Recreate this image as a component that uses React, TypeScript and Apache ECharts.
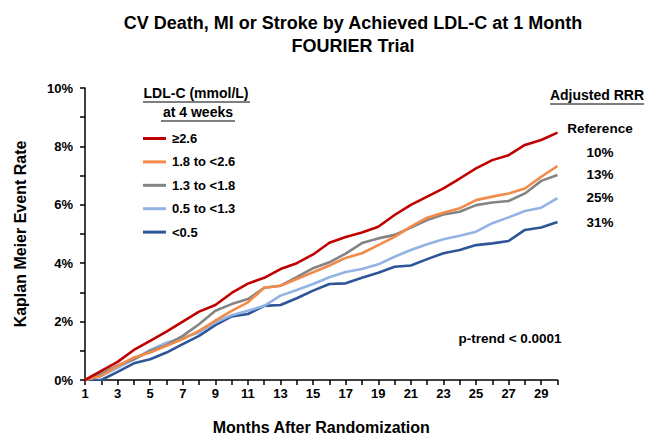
import React, { useEffect, useRef } from "react";
import * as echarts from "echarts";

const months = [1,2,3,4,5,6,7,8,9,10,11,12,13,14,15,16,17,18,19,20,21,22,23,24,25,26,27,28,29,30];
const seriesNames = ["≥2.6", "1.8 to <2.6", "1.3 to <1.8", "0.5 to <1.3", "<0.5"];
const seriesColors = ["#C00000", "#F28A4A", "#848484", "#92B4E4", "#2E5597"];
const red = [0,0.31,0.62,1.03,1.34,1.66,2.0,2.34,2.57,2.98,3.30,3.50,3.80,4.0,4.3,4.7,4.9,5.05,5.25,5.65,6.0,6.28,6.56,6.9,7.25,7.53,7.7,8.05,8.22,8.47];
const orange = [0,0.14,0.48,0.77,0.94,1.17,1.4,1.68,2.03,2.37,2.66,3.16,3.23,3.46,3.69,3.92,4.18,4.34,4.62,4.9,5.25,5.56,5.73,5.88,6.16,6.28,6.39,6.56,6.96,7.33];
const gray = [0,0.22,0.5,0.71,0.99,1.19,1.51,1.91,2.37,2.6,2.77,3.16,3.23,3.52,3.83,4.03,4.33,4.69,4.85,4.97,5.22,5.48,5.67,5.76,5.99,6.08,6.13,6.39,6.82,7.02];
const lightBlue = [0,0.14,0.42,0.71,1.03,1.28,1.45,1.63,1.97,2.22,2.37,2.54,2.89,3.08,3.29,3.52,3.7,3.8,3.96,4.22,4.45,4.65,4.82,4.94,5.08,5.37,5.57,5.79,5.9,6.23];
const darkBlue = [0,0,0.28,0.57,0.71,0.94,1.23,1.51,1.88,2.18,2.26,2.54,2.57,2.8,3.06,3.29,3.31,3.5,3.67,3.88,3.92,4.14,4.34,4.45,4.62,4.68,4.76,5.14,5.22,5.41];
const seriesValues = [red, orange, gray, lightBlue, darkBlue];
const rrrLabels = ["Reference", "10%", "13%", "25%", "31%"];

const FONT = "Liberation Sans, Arial, sans-serif";

export default function App() {
  const ref = useRef<HTMLDivElement>(null);
  useEffect(() => {
    if (!ref.current) return;
    const chart = echarts.init(ref.current, null, { renderer: "svg" });
    const txt = (x: number, y: number, text: string, size: number, align = "left") => ({
      type: "text",
      x,
      y,
      style: { text, font: `bold ${size}px ${FONT}`, fill: "#000", textAlign: align, textVerticalAlign: "middle" },
    });
    const uline = (x1: number, x2: number, y: number) => ({
      type: "line",
      shape: { x1, y1: y, x2, y2: y },
      style: { stroke: "#000", lineWidth: 1.2 },
    });
    const rrrY = [128, 152, 174, 197, 222];
    chart.setOption({
      animation: false,
      backgroundColor: "#fff",
      title: {
        text: "CV Death, MI or Stroke by Achieved LDL-C at 1 Month\nFOURIER Trial",
        left: 348,
        top: 6,
        textAlign: "center",
        textStyle: { fontFamily: FONT, fontWeight: "bold", fontSize: 18, lineHeight: 23, color: "#000" },
      },
      grid: { left: 85, right: 92.5, top: 88, bottom: 57, containLabel: false, outerBoundsMode: "none" },
      legend: {
        orient: "vertical",
        left: 138,
        top: 127,
        itemWidth: 23,
        itemHeight: 3,
        itemGap: 10.4,
        icon: "rect",
        data: seriesNames,
        textStyle: { fontFamily: FONT, fontWeight: "bold", fontSize: 13, color: "#000", padding: [0, 0, 0, 1] },
      },
      xAxis: {
        type: "value",
        min: 1,
        max: 30,
        interval: 1,
        name: "Months After Randomization",
        nameLocation: "middle",
        nameGap: 39,
        nameTextStyle: { fontFamily: FONT, fontWeight: "bold", fontSize: 16, color: "#000" },
        axisLine: { lineStyle: { color: "#000", width: 1.5 } },
        axisTick: { show: true, length: 5, inside: false, lineStyle: { color: "#000", width: 1.5 } },
        axisLabel: {
          fontFamily: FONT,
          fontWeight: "bold",
          fontSize: 13,
          color: "#000",
          margin: 7,
          showMaxLabel: true,
          formatter: (v: number) => (v % 2 === 1 && v <= 29 ? String(v) : ""),
        },
        splitLine: { show: false },
      },
      yAxis: {
        type: "value",
        min: 0,
        max: 10,
        interval: 1,
        name: "Kaplan Meier Event Rate",
        nameLocation: "middle",
        nameGap: 57,
        nameTextStyle: { fontFamily: FONT, fontWeight: "bold", fontSize: 16, color: "#000" },
        axisLine: { show: true, lineStyle: { color: "#000", width: 1.5 } },
        axisTick: { show: true, length: 5, lineStyle: { color: "#000", width: 1.5 } },
        axisLabel: {
          fontFamily: FONT,
          fontWeight: "bold",
          fontSize: 13,
          color: "#000",
          margin: 12,
          formatter: (v: number) => (v % 2 === 0 ? v + "%" : ""),
        },
        splitLine: { show: false },
      },
      series: seriesNames.map((name, i) => ({
        name,
        type: "line",
        data: months.map((m, j) => [m, seriesValues[i][j]]),
        showSymbol: false,
        symbol: "none",
        lineStyle: { color: seriesColors[i], width: 2.6 },
        itemStyle: { color: seriesColors[i] },
        z: 10 - i,
      })),
      graphic: [
        txt(196, 93, "LDL-C (mmol/L)", 14, "center"),
        uline(143, 250, 102),
        txt(198, 112, "at 4 weeks", 14, "center"),
        uline(161, 235, 121),
        txt(597, 95, "Adjusted RRR", 14, "center"),
        uline(550, 644, 104),
        ...rrrLabels.map((t, i) => txt(600, rrrY[i], t, 13.5, "center")),
        txt(510, 338, "p-trend < 0.0001", 13.5, "center"),
      ],
    });
    return () => chart.dispose();
  }, []);
  return <div ref={ref} style={{ position: "fixed", left: 0, top: 0, width: 650, height: 437 }} />;
}
